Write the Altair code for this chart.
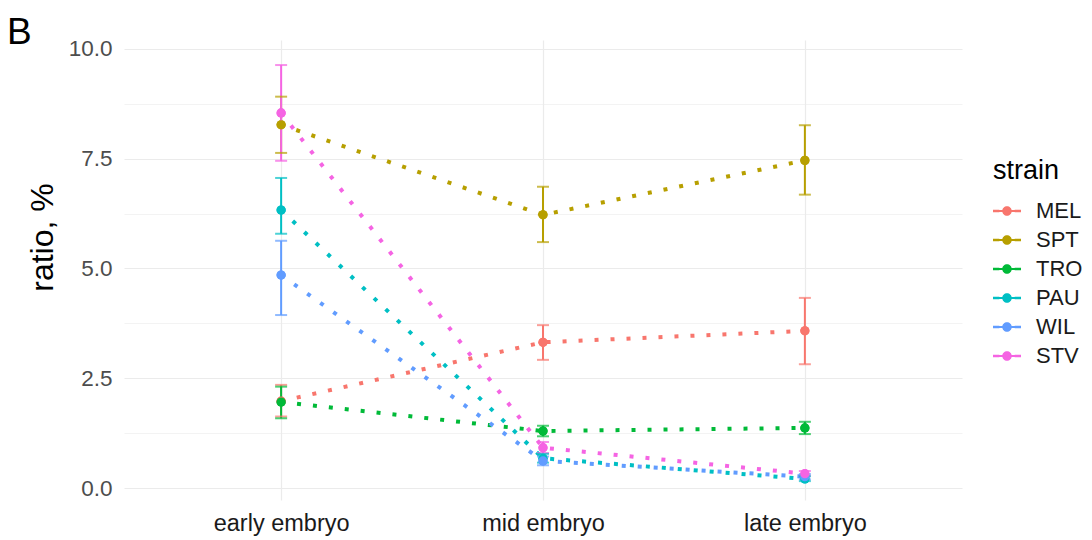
import altair as alt
import pandas as pd

stages = ["early embryo", "mid embryo", "late embryo"]
strains = ["MEL", "SPT", "TRO", "PAU", "WIL", "STV"]
colors = ["#F8766D", "#B79F00", "#00BA38", "#00BFC4", "#619CFF", "#F564E3"]

mean_MEL = [1.98, 3.32, 3.58]
mean_SPT = [8.27, 6.22, 7.46]
mean_TRO = [1.96, 1.30, 1.37]
mean_PAU = [6.33, 0.68, 0.21]
mean_WIL = [4.85, 0.62, 0.26]
mean_STV = [8.54, 0.92, 0.33]

low_MEL = [1.63, 2.92, 2.82]
low_SPT = [7.63, 5.60, 6.68]
low_TRO = [1.59, 1.18, 1.23]
low_PAU = [5.79, 0.58, 0.16]
low_WIL = [3.94, 0.52, 0.20]
low_STV = [7.45, 0.80, 0.28]

high_MEL = [2.35, 3.71, 4.33]
high_SPT = [8.91, 6.86, 8.26]
high_TRO = [2.31, 1.42, 1.51]
high_PAU = [7.06, 0.78, 0.27]
high_WIL = [5.63, 0.72, 0.32]
high_STV = [9.63, 1.05, 0.39]

means = [mean_MEL, mean_SPT, mean_TRO, mean_PAU, mean_WIL, mean_STV]
lows = [low_MEL, low_SPT, low_TRO, low_PAU, low_WIL, low_STV]
highs = [high_MEL, high_SPT, high_TRO, high_PAU, high_WIL, high_STV]

rows = []
for si, s in enumerate(strains):
    for ti, st in enumerate(stages):
        rows.append({"strain": s, "stage": st, "order": si,
                     "ratio": means[si][ti], "lo": lows[si][ti], "hi": highs[si][ti]})
df = pd.DataFrame(rows)

FONT = "Liberation Sans"

xenc = alt.X("stage:N", sort=stages,
             scale=alt.Scale(type="point", padding=0.6),
             axis=alt.Axis(title=None, labelFontSize=23.5, labelColor="#1a1a1a",
                           labelFont=FONT, labelPadding=11, ticks=False, domain=False,
                           grid=True, gridColor="#EBEBEB", gridWidth=1.2, labelAngle=0))
yscale = alt.Scale(domain=[-0.27, 10.2], nice=False, zero=False)
yaxis = alt.Axis(title="ratio, %", values=[0, 1.25, 2.5, 3.75, 5, 6.25, 7.5, 8.75, 10],
                 labelExpr="datum.value % 2.5 == 0 ? format(datum.value, '.1f') : ''",
                 labelFontSize=22.5, labelColor="#4D4D4D", labelFont=FONT, labelPadding=12,
                 ticks=False, domain=False, gridColor="#EBEBEB",
                 gridWidth=alt.ExprRef(expr="datum.value % 2.5 == 0 ? 1.2 : 0.6"),
                 titleFontSize=32, titleFont=FONT, titleFontWeight="normal", titleColor="#000000",
                 titleAngle=270, titleX=-72, titleY=197, titleAlign="center",
                 titleBaseline="alphabetic")
cscale = alt.Scale(domain=strains, range=colors)

symbol_path = ("M-1,-0.09 L-0.55,-0.09 L-0.55,0.09 L-1,0.09 Z "
               "M0.55,-0.09 L1,-0.09 L1,0.09 L0.55,0.09 Z "
               "M-0.6,-0.07 L0.6,-0.07 L0.6,0.07 L-0.6,0.07 Z "
               "M-0.34,0 A0.34,0.34 0 1,1 0.34,0 A0.34,0.34 0 1,1 -0.34,0 Z")

legend = alt.Legend(title="strain", orient="none", legendX=869, legendY=118,
                    titleFontSize=27, titleFont=FONT, titleFontWeight="normal",
                    titleColor="#000000", titlePadding=12,
                    labelFontSize=22, labelFont=FONT, labelColor="#1a1a1a",
                    symbolType=symbol_path, symbolSize=784,
                    symbolStrokeWidth=0, labelOffset=15,
                    rowPadding=4, symbolOpacity=1)
cenc = alt.Color("strain:N", scale=cscale, legend=legend)

base = alt.Chart(df)

lines = base.mark_line(strokeDash=[4, 12], strokeWidth=4, strokeCap="butt").encode(
    x=xenc, y=alt.Y("ratio:Q", scale=yscale, axis=yaxis), color=cenc,
    detail="strain:N", order="order:Q")

rules = base.mark_rule(strokeWidth=2).encode(
    x=xenc, y=alt.Y("lo:Q", scale=yscale), y2="hi:Q", color=cenc)

caps_lo = base.mark_tick(size=12, thickness=2).encode(
    x=xenc, y=alt.Y("lo:Q", scale=yscale), color=cenc)
caps_hi = base.mark_tick(size=12, thickness=2).encode(
    x=xenc, y=alt.Y("hi:Q", scale=yscale), color=cenc)

points = base.mark_point(filled=True, size=85, opacity=1).encode(
    x=xenc, y=alt.Y("ratio:Q", scale=yscale), color=cenc)

letter = alt.Chart(pd.DataFrame({"t": ["B"]})).mark_text(
    fontSize=37, font=FONT, align="left", baseline="alphabetic", color="#000000").encode(
    text="t:N", x=alt.value(-117), y=alt.value(4))

chart = alt.layer(points, lines, rules, caps_lo, caps_hi, points, letter).properties(
    width=838, height=460,
    autosize=alt.AutoSizeParams(type="none"),
    padding={"left": 116, "top": 32, "right": 122, "bottom": 40},
    background="white",
).configure_view(stroke=None)

chart.save("out.html", embed_options={"renderer": "svg", "actions": False})
